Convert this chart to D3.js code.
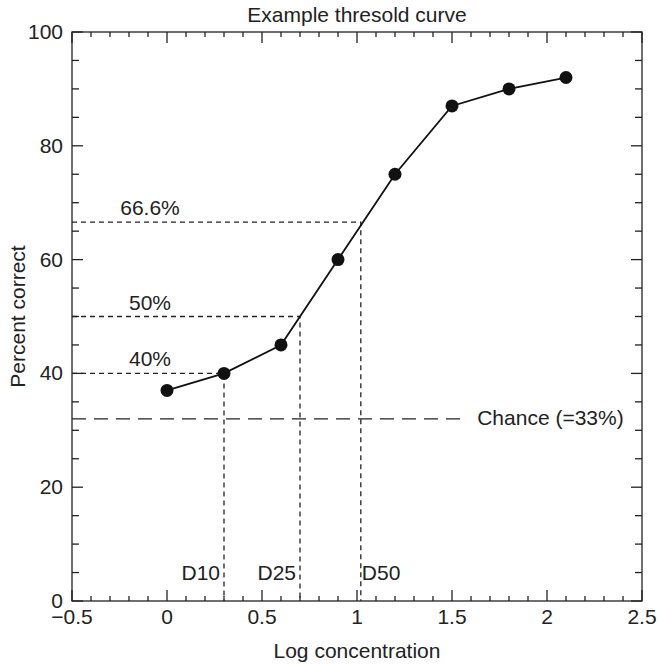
<!DOCTYPE html>
<html><head><meta charset="utf-8">
<script src="https://cdn.jsdelivr.net/npm/d3@7"></script>
<style>body{margin:0;background:#fff}text{font-family:"Liberation Sans",Arial,sans-serif;fill:#222}</style>
</head><body>
<svg id="c" width="658" height="665"></svg>
<script>
const logConc = [0, 0.3, 0.6, 0.9, 1.2, 1.5, 1.8, 2.1];
const pctCorrect = [37, 40, 45, 60, 75, 87, 90, 92];
const xTicks = [-0.5, 0, 0.5, 1, 1.5, 2, 2.5];
const yTicks = [0, 20, 40, 60, 80, 100];
const thresholdLevels = [40, 50, 66.6];
const thresholdConc = [0.3, 0.7, 1.02];
const thresholdLabels = ["40%", "50%", "66.6%"];
const dLabels = ["D10", "D25", "D50"];
const chanceLevel = 32;
const chanceEnd = 1.58;
const chanceLabel = "Chance (=33%)";

const svg = d3.select("#c");
const L = 72, R = 642, T = 32, B = 601;
const x = d3.scaleLinear().domain([-0.5, 2.5]).range([L, R]);
const y = d3.scaleLinear().domain([0, 100]).range([B, T]);
const fs = 21;

// frame
svg.append("rect").attr("x", L).attr("y", T).attr("width", R - L).attr("height", B - T)
  .attr("fill", "none").attr("stroke", "#222").attr("stroke-width", 1.3);

// ticks inside
const xMinor = d3.range(-5, 26).map(d => d / 10);
const yMinor = d3.range(0, 101, 5);
const tk = svg.append("g").attr("stroke", "#222").attr("stroke-width", 1.3);
xMinor.forEach(v => {
  const major = Math.abs(v * 2 - Math.round(v * 2)) < 1e-6;
  const len = major ? 11 : 5;
  tk.append("line").attr("x1", x(v)).attr("x2", x(v)).attr("y1", B).attr("y2", B - len);
  tk.append("line").attr("x1", x(v)).attr("x2", x(v)).attr("y1", T).attr("y2", T + len);
});
yMinor.forEach(v => {
  const major = v % 20 === 0;
  const len = major ? 11 : 7;
  tk.append("line").attr("x1", L).attr("x2", L + len).attr("y1", y(v)).attr("y2", y(v));
  tk.append("line").attr("x1", R).attr("x2", R - len).attr("y1", y(v)).attr("y2", y(v));
});

// tick labels
const fmtX = d => (d < 0 ? "\u2212" : "") + String(Math.abs(d));
svg.append("g").selectAll("text").data(xTicks).join("text")
  .attr("x", d => x(d)).attr("y", 624).attr("text-anchor", "middle")
  .attr("font-size", fs).text(fmtX);
svg.append("g").selectAll("text").data(yTicks).join("text")
  .attr("x", L - 9).attr("y", d => y(d) + 7).attr("text-anchor", "end")
  .attr("font-size", fs).text(d => d);

// titles
svg.append("text").attr("x", (L + R) / 2).attr("y", 22).attr("text-anchor", "middle")
  .attr("font-size", fs).text("Example thresold curve");
svg.append("text").attr("x", (L + R) / 2).attr("y", 658).attr("text-anchor", "middle")
  .attr("font-size", fs).text("Log concentration");
svg.append("text").attr("transform", `translate(25,${(T + B) / 2}) rotate(-90)`)
  .attr("text-anchor", "middle").attr("font-size", fs).text("Percent correct");

// threshold dashed lines
const dg = svg.append("g").attr("stroke", "#222").attr("stroke-width", 1.3)
  .attr("stroke-dasharray", "5,4").attr("fill", "none");
thresholdLevels.forEach((lv, i) => {
  dg.append("path").attr("d", `M${L},${y(lv)}H${x(thresholdConc[i])}V${B}`);
  svg.append("text").attr("x", 150).attr("y", y(lv) - 7).attr("text-anchor", "middle")
    .attr("font-size", fs).text(thresholdLabels[i]);
  const isLast = i === thresholdLevels.length - 1;
  svg.append("text")
    .attr("x", isLast ? x(thresholdConc[i]) + 1 : x(thresholdConc[i]) - 4)
    .attr("y", 580).attr("text-anchor", isLast ? "start" : "end")
    .attr("font-size", fs).text(dLabels[i]);
});

// chance line
svg.append("line").attr("x1", L).attr("x2", x(chanceEnd)).attr("y1", y(chanceLevel)).attr("y2", y(chanceLevel))
  .attr("stroke", "#222").attr("stroke-width", 1.3).attr("stroke-dasharray", "14,8");
svg.append("text").attr("x", x(chanceEnd) + 10).attr("y", y(chanceLevel) + 6)
  .attr("font-size", fs).text(chanceLabel);

// curve
const pts = logConc.map((v, i) => [v, pctCorrect[i]]);
svg.append("path").datum(pts)
  .attr("d", d3.line().x(d => x(d[0])).y(d => y(d[1])))
  .attr("fill", "none").attr("stroke", "#111").attr("stroke-width", 1.8);
svg.append("g").selectAll("circle").data(pts).join("circle")
  .attr("cx", d => x(d[0])).attr("cy", d => y(d[1])).attr("r", 6.5).attr("fill", "#111");
</script>
</body></html>
